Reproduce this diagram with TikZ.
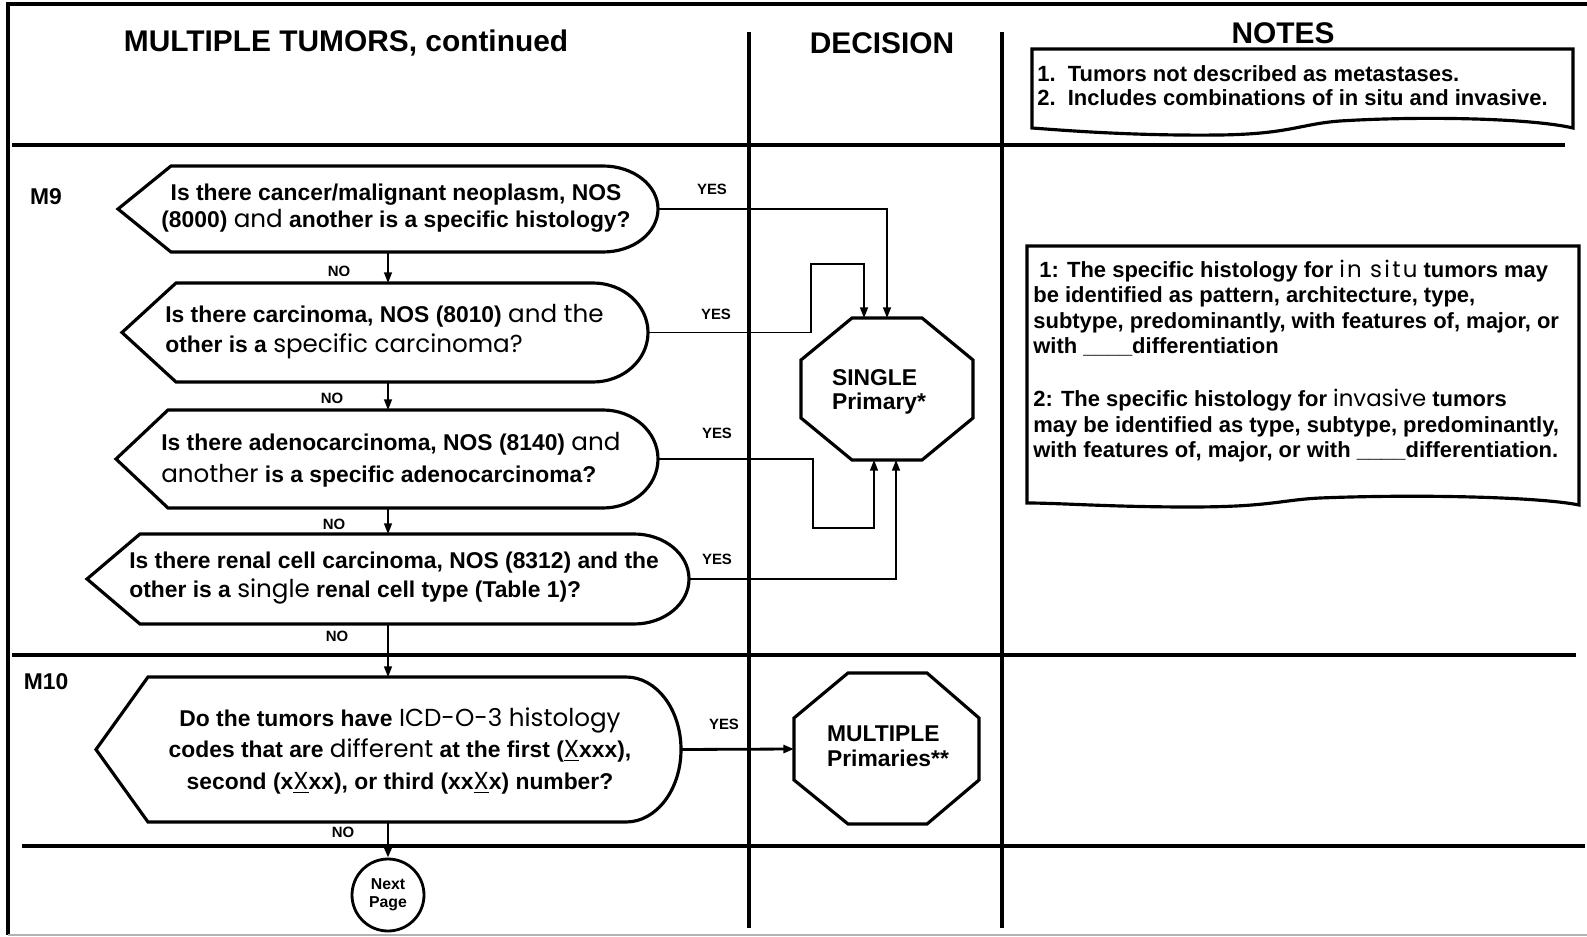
\documentclass[tikz,border=0pt]{standalone}
\usepackage{fontspec}
\setmainfont{Liberation Sans}
\newfontfamily\geofont{Poppins}
\usepackage{tikz}
\usetikzlibrary{arrows.meta, positioning}
\definecolor{framegray}{rgb}{0.7, 0.7, 0.7}

% wide plain words inside the bold text
\newcommand{\gw}[1]{{\geofont\mdseries\fontsize{14}{17}\selectfont #1}}
\newcommand{\gwn}[1]{{\geofont\mdseries\fontsize{13}{15}\selectfont #1}}

% question box: name, tip x, slant x, right x, top y, bottom y
\newcommand{\qshape}[6]{%
	\pgfmathsetmacro\qmid{(#5+#6)/2}
	\pgfmathsetmacro\qrad{(#6-#5)/2}
	\draw[qline] (#2,\qmid) -- (#3,#5) -- ({#4-55},#5)
		arc[start angle=-90, end angle=90, x radius=55, y radius=\qrad] -- (#3,#6) -- cycle;
	\coordinate (#1-e) at (#4,\qmid);
	\coordinate (#1-n) at (388,#5);
	\coordinate (#1-s) at (388,#6);
}

\tikzset{
	qline/.style={line width=1.8pt},
	octline/.style={line width=1.8pt},
	noteline/.style={line width=1.8pt},
	rule/.style={line width=2pt},
	link/.style={line width=0.8pt},
	heavy/.style={line width=1.6pt},
	tip/.style={-{Triangle[length=6pt,width=4.5pt]}},
	head/.style={font=\bfseries\fontsize{17}{20}\selectfont},
	qtext/.style={font=\bfseries\fontsize{13}{#1}\selectfont, inner sep=0pt},
	octtext/.style={font=\bfseries\fontsize{13}{14}\selectfont, align=left, inner sep=0pt},
	notetext/.style={font=\bfseries\fontsize{12.5}{#1}\selectfont, align=left, inner sep=0pt, anchor=west},
	yesno/.style={font=\bfseries\fontsize{8.5}{10}\selectfont},
	mark label/.style={font=\bfseries\fontsize{13}{15}\selectfont},
}

\begin{document}
\begin{tikzpicture}[x=0.2mm, y=-0.2mm]
	\useasboundingbox (0,0) rectangle (1587,937);
	% frame and table rules
	\draw[line width=1.8pt] (1587,4) -- (8,4) -- (8,935);
	\draw[framegray, line width=0.6pt] (8,935) -- (1587,935);
	\draw[rule] (12,145) -- (1565,145);
	\draw[rule] (12,655) -- (1576,655);
	\draw[rule] (22,846) -- (1585,846);
	\foreach \x in {749,1002}{
		\draw[rule] (\x,32) -- (\x,928);
	}
	
	% headings
	\node[head] (title) at (346,43) {MULTIPLE TUMORS, continued};
	\node[head] (decision) at (882,43) {DECISION};
	\node[head] (notes) at (1283,33) {NOTES};
	\node[mark label] (m9) at (46,197) {M9};
	\node[mark label] (m10) at (46,682) {M10};
	
	% notes boxes
	\draw[noteline] (1032,49) -- (1573,49) -- (1573,128)
		.. controls (1530,118) and (1420,116) .. (1340,121)
		.. controls (1300,124) and (1290,134) .. (1220,135)
		.. controls (1130,136) and (1060,130) .. (1032,128) -- cycle;
	\node[notetext=13.5] (note1) at (1037,86) {1.\ \ Tumors not described as metastases.\\2.\ \ Includes combinations of in situ and invasive.};
	\draw[noteline] (1027,246) -- (1579,246) -- (1579,505)
		.. controls (1540,497) and (1420,494) .. (1320,498)
		.. controls (1280,500) and (1270,507) .. (1190,507)
		.. controls (1110,507) and (1060,503) .. (1027,503) -- cycle;
	\node[notetext=14.4] (note2) at (1033,361) {\ 1: The specific histology for \gwn{\addfontfeature{LetterSpace=10}in situ} tumors may\\be identified as pattern, architecture, type,\\subtype, predominantly, with features of, major, or\\with \_\_\_\_differentiation\\[16pt]2: The specific histology for \gwn{invasive} tumors\\may be identified as type, subtype, predominantly,\\with features of, major, or with \_\_\_\_differentiation.};
	
	% questions
	\qshape{q1}{118}{171}{658}{166}{252}
	\qshape{q2}{122}{176}{648}{283}{382}
	\qshape{q3}{116}{168}{658}{410}{508}
	\qshape{q4}{87}{140}{689}{534}{624}
	\qshape{q5}{96}{148}{681}{677}{822}
	\node[qtext=15.3, align=center] (t1) at (396,208) {Is there cancer/malignant neoplasm, NOS\\(8000) \gw{and} another is a specific histology?};
	\node[qtext=17, align=left, anchor=west] (t2) at (165,332) {Is there carcinoma, NOS (8010) \gw{and the}\\other is a \gw{specific carcinoma?}};
	\node[qtext=18, align=left, anchor=west] (t3) at (161,460) {Is there adenocarcinoma, NOS (8140) \gw{and}\\\gw{another} is a specific adenocarcinoma?};
	\node[qtext=16.5, align=left, anchor=west] (t4) at (129,578) {Is there renal cell carcinoma, NOS (8312) and the\\other is a \gw{single} renal cell type (Table 1)?};
	\node[qtext=17.9, align=center] (t5) at (400,751) {Do the tumors have \gw{ICD-O-3 histology}\\codes that are \gw{different} at the first (\gw{\underline{X}}xxx),\\second (x\gw{\underline{X}}xx), or third (xx\gw{\underline{X}}x) number?};
	
	% decisions
	\draw[octline] (801,360) -- (852,318) -- (922,318) -- (973,360) -- (973,418) -- (922,460) -- (852,460) -- (801,418) -- cycle;
	\node[octtext] (single) at (879,392) {SINGLE\\Primary*};
	\draw[octline] (794,718) -- (848,673) -- (927,673) -- (979,718) -- (979,780) -- (927,824) -- (848,824) -- (794,780) -- cycle;
	\node[octtext] (multi) at (888,746) {MULTIPLE\\Primaries**};
	\node[circle, draw, line width=1.6pt, minimum size=14.4mm, inner sep=0pt, align=center, font=\bfseries\fontsize{9}{10}\selectfont] (next) at (388,895) {Next\\Page};
	\coordinate (single-n1) at (864,318);
	\coordinate (single-n2) at (887,318);
	\coordinate (single-s1) at (874,460);
	\coordinate (single-s2) at (896,460);
	\coordinate (multi-w) at (794,749);
	\coordinate (j2) at (811,264);
	\coordinate (j3) at (813,528);
	
	% no arrows
	\foreach \a/\b in {q1/q2, q2/q3, q3/q4, q4/q5}{
		\draw[link, tip] (\a-s) -- (\b-n);
	}
	\draw[heavy, tip] (q5-s) -- (next);
	% yes arrows
	\draw[link, tip] (q1-e) -| (single-n2);
	\draw[link, tip] (q2-e) -| (j2) -| (single-n1);
	\draw[link, tip] (q3-e) -| (j3) -| (single-s1);
	\draw[link, tip] (q4-e) -| (single-s2);
	\draw[heavy, tip] (q5-e) -- (multi-w);
	
	% labels:
	\node[yesno] (no1) at (339,271) {NO};
	\node[yesno] (no2) at (332,398) {NO};
	\node[yesno] (no3) at (334,524) {NO};
	\node[yesno] (no4) at (337,636) {NO};
	\node[yesno] (no5) at (343,832) {NO};
	\node[yesno] (yes1) at (712,189) {YES};
	\node[yesno] (yes2) at (716,314) {YES};
	\node[yesno] (yes3) at (717,433) {YES};
	\node[yesno] (yes4) at (717,559) {YES};
	\node[yesno] (yes5) at (724,724) {YES};
\end{tikzpicture}
\end{document}
